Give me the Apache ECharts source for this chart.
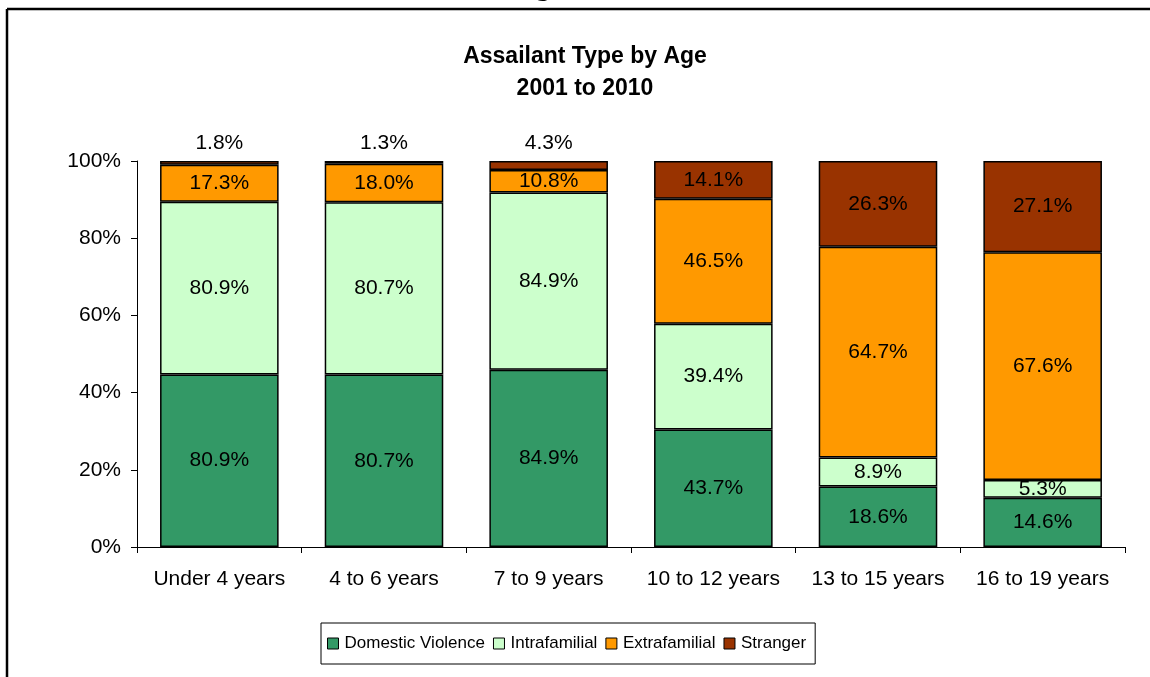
<!DOCTYPE html>
<html>
<head>
<meta charset="utf-8">
<script src="https://cdn.jsdelivr.net/npm/echarts@6/dist/echarts.min.js"></script>
<style>
  html, body { margin: 0; padding: 0; background: #fff; }
  #chart_con { width: 1150px; height: 677px; }
</style>
</head>
<body>
<div id="chart_con"></div>
<script>
const categories = ["Under 4 years", "4 to 6 years", "7 to 9 years", "10 to 12 years", "13 to 15 years", "16 to 19 years"];
const domesticViolence = [80.9, 80.7, 84.9, 43.7, 18.6, 14.6];
const intrafamilial = [80.9, 80.7, 84.9, 39.4, 8.9, 5.3];
const extrafamilial = [17.3, 18.0, 10.8, 46.5, 64.7, 67.6];
const stranger = [1.8, 1.3, 4.3, 14.1, 26.3, 27.1];
const yTicks = [0, 20, 40, 60, 80, 100];

const font = "Liberation Sans, Arial, sans-serif";
const allSeries = [domesticViolence, intrafamilial, extrafamilial, stranger];
const totals = categories.map((c, i) => allSeries.reduce((s, arr) => s + arr[i], 0));

// 100% stacked: height is share of column total, label shows the raw value
function toPercent(arr, outsideSmall) {
  return arr.map((v, i) => {
    const item = { value: (v / totals[i]) * 100, raw: v };
    if (outsideSmall && v < 5) {
      item.label = { position: "top", distance: 7 };
    }
    return item;
  });
}

function makeSeries(name, arr, color, outsideSmall) {
  return {
    name: name,
    type: "bar",
    stack: "total",
    barWidth: "72%",
    data: toPercent(arr, outsideSmall),
    itemStyle: { color: color, borderColor: "#000", borderWidth: 1.5 },
    label: {
      show: true,
      position: "inside",
      color: "#000",
      fontFamily: font,
      fontSize: 21,
      formatter: p => p.data.raw.toFixed(1) + "%"
    }
  };
}

const option = {
  animation: false,
  backgroundColor: "#fff",
  title: {
    text: "Assailant Type by Age\n2001 to 2010",
    left: 580,
    top: 36,
    textAlign: "center",
    textStyle: { fontFamily: font, fontSize: 23, fontWeight: "bold", color: "#000", lineHeight: 32 }
  },
  graphic: [
    { type: "line", shape: { x1: 7, y1: 9, x2: 1150, y2: 9 }, style: { stroke: "#000", lineWidth: 2.5 } },
    { type: "line", shape: { x1: 7, y1: 9, x2: 7, y2: 677 }, style: { stroke: "#000", lineWidth: 2.5 } },
    {
      type: "text", left: 512, top: -25,
      style: { text: "Figure 12.", font: "bold 27px 'Liberation Serif', serif", fill: "#000" }
    }
  ],
  legend: {
    data: ["Domestic Violence", "Intrafamilial", "Extrafamilial", "Stranger"],
    left: 321,
    top: 623,
    padding: [12, 9, 12, 6],
    borderColor: "#000",
    borderWidth: 1,
    itemWidth: 11,
    itemHeight: 11,
    itemGap: 8,
    icon: "rect",
    itemStyle: { borderColor: "#000", borderWidth: 1 },
    textStyle: { fontFamily: font, fontSize: 17, color: "#000", padding: [0, 0, 0, 1] }
  },
  grid: { left: 137, right: 25, top: 161, bottom: 130 },
  xAxis: {
    type: "category",
    data: categories,
    axisLine: { lineStyle: { color: "#000", width: 1 } },
    axisTick: { show: true, length: 6, alignWithLabel: false, lineStyle: { color: "#000" } },
    axisLabel: { fontFamily: font, fontSize: 21, color: "#000", margin: 22, interval: 0 }
  },
  yAxis: {
    type: "value",
    min: yTicks[0],
    max: yTicks[yTicks.length - 1],
    interval: yTicks[1] - yTicks[0],
    splitLine: { show: false },
    axisLine: { show: true, lineStyle: { color: "#000", width: 1 } },
    axisTick: { show: true, length: 6, lineStyle: { color: "#000" } },
    axisLabel: { fontFamily: font, fontSize: 21, color: "#000", margin: 16, formatter: "{value}%" }
  },
  series: [
    makeSeries("Domestic Violence", domesticViolence, "#339966", false),
    makeSeries("Intrafamilial", intrafamilial, "#CCFFCC", false),
    makeSeries("Extrafamilial", extrafamilial, "#FF9900", false),
    makeSeries("Stranger", stranger, "#993300", true)
  ]
};

const chart = echarts.init(document.getElementById("chart_con"));
chart.setOption(option);
window.addEventListener("resize", function() {
  chart.resize();
});
</script>
</body>
</html>
